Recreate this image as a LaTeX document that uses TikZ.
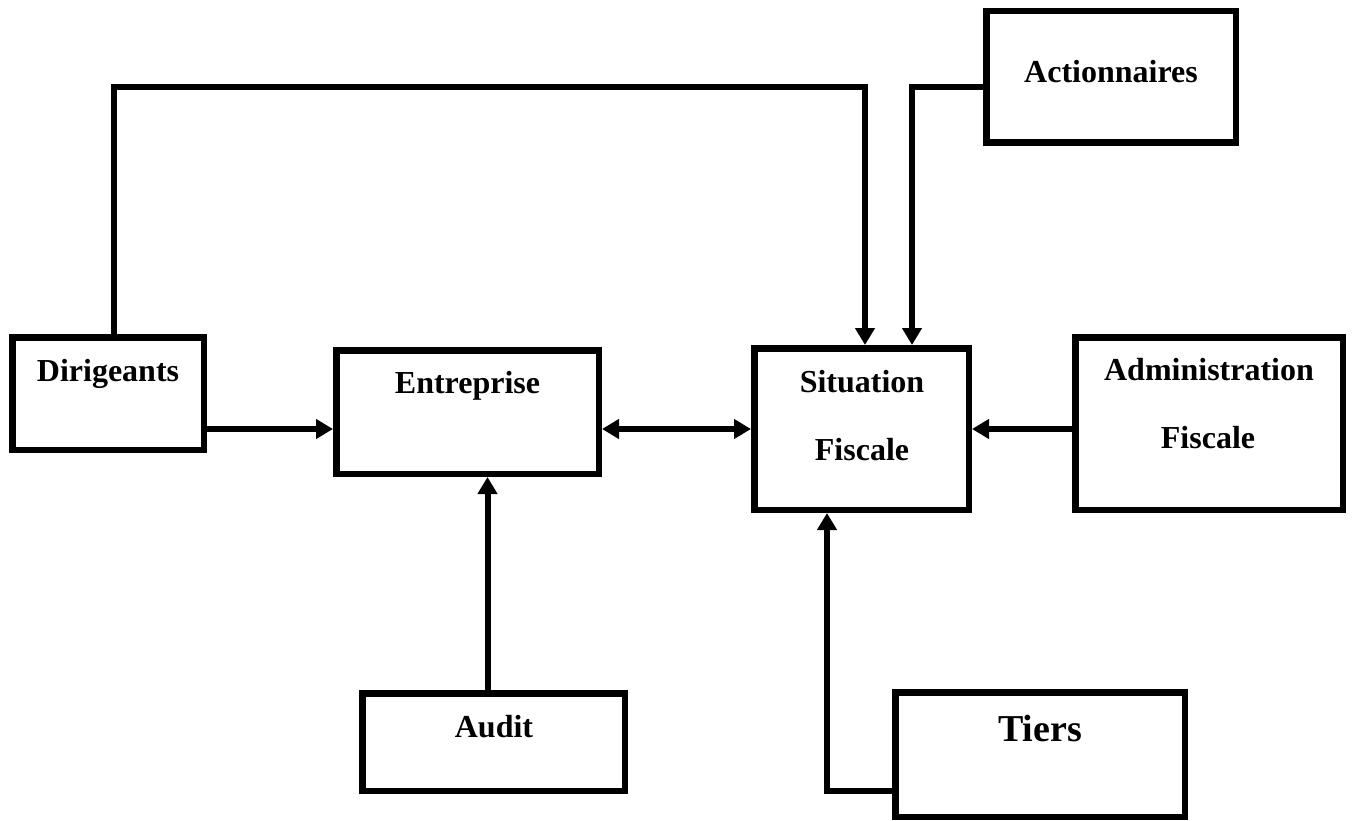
\documentclass[tikz,border=0pt]{standalone}
\usepackage{fontspec}
\setmainfont{Liberation Serif}
\usetikzlibrary{arrows.meta}

\begin{document}
\begin{tikzpicture}[x=1pt,y=-1pt,>={Triangle[length=17pt,width=19pt]},
    bloc/.style={draw,line width=6.5pt,inner sep=0,minimum width=#1},
    titre/.style={anchor=base,inner sep=0,font=\fontsize{32}{38}\selectfont\bfseries},
    fleche/.style={->,line width=6pt},
    fleche2/.style={<->,line width=6pt}]
    \useasboundingbox(0,0)rectangle(1352,821);
    % boxes
    \node[bloc=249.5,minimum height=131.5](act)at(1111,77){};
    \node[bloc=191.5,minimum height=112.5](dir)at(108,393.5){};
    \node[bloc=262.5,minimum height=123.5](ent)at(467.5,412){};
    \node[bloc=214.5,minimum height=161.5](sit)at(861.5,429){};
    \node[bloc=267.5,minimum height=172.5](adm)at(1209,423.5){};
    \node[bloc=262.5,minimum height=97.5](aud)at(493.5,742){};
    \node[bloc=289.5,minimum height=124.5](tie)at(1040,754.5){};
    % texts
    \node[titre](act-t)at(1111,83){Actionnaires};
    \node[titre](dir-t)at(108,381){Dirigeants};
    \node[titre](ent-t)at(467.5,393){Entreprise};
    \node[titre](sit-t)at(862,392){Situation};
    \node[titre](sit-b)at(862,460){Fiscale};
    \node[titre](adm-t)at(1209,380){Administration};
    \node[titre](adm-b)at(1208,448){Fiscale};
    \node[titre](aud-t)at(494,737){Audit};
    \node[titre,font=\fontsize{38}{44}\selectfont\bfseries](tie-t)at(1040,741){Tiers};
    % connectors
    \coordinate(toit)at(0,87);
    \draw[fleche]([xshift=6pt]dir.north)|-([xshift=3.5pt]sit.north|-toit)--([xshift=3.5pt]sit.north);
    \draw[fleche]([yshift=-10pt]act.west)-|([xshift=50.5pt]sit.north);
    \draw[fleche](dir.east|-sit.west)--(ent.west|-sit.west);
    \draw[fleche2](ent.east|-sit.west)--(sit.west);
    \draw[fleche](adm.west|-sit.east)--(sit.east);
    \draw[fleche]([xshift=-6pt]aud.north)--([xshift=-6pt]aud.north|-ent.south);
    \draw[fleche]([yshift=-36pt]tie.west)-|([xshift=-34.5pt]sit.south);
\end{tikzpicture}
\end{document}
